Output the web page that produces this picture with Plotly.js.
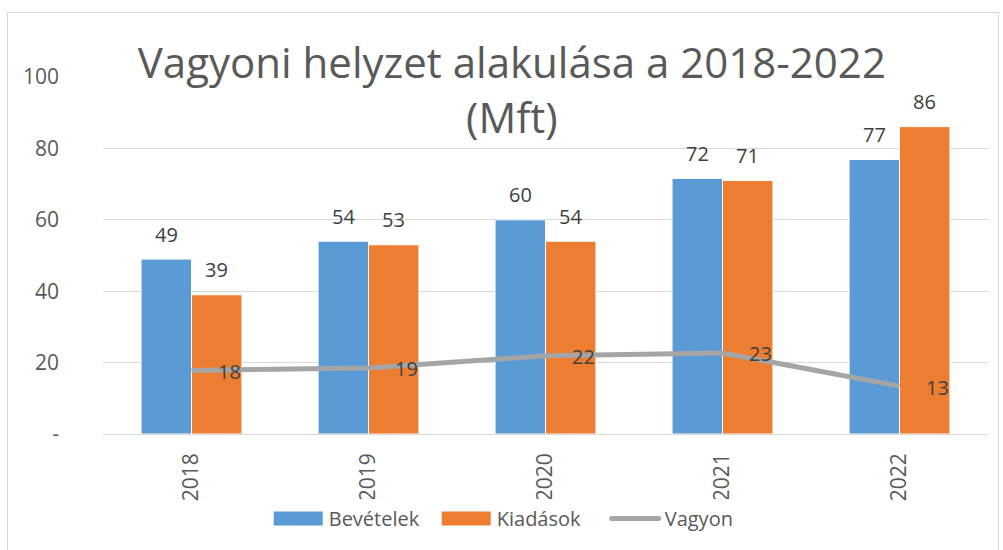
<!DOCTYPE html>
<html>
<head>
<meta charset="utf-8">
<script src="https://cdn.plot.ly/plotly-3.0.1.min.js"></script>
<style>
  html, body { margin: 0; padding: 0; background: #fff; }
  #wrap { position: relative; width: 1003px; height: 550px; }
  #chart { position: absolute; left: 0; top: 0; width: 1003px; height: 550px; }
  #frame { position: absolute; left: 7px; top: 12px; width: 992px; height: 560px;
           border: 1px solid #d9d9d9; pointer-events: none; box-sizing: border-box; }
</style>
</head>
<body>
<div id="wrap">
  <div id="chart"></div>
  <div id="frame"></div>
</div>
<script>
const years = ['2018', '2019', '2020', '2021', '2022'];
const bevetelek = [49, 54, 60, 71.6, 76.9];
const kiadasok = [39, 53, 54, 71, 86.1];
const vagyon = [17.8, 18.5, 21.9, 22.7, 13.4];
const yTickVals = [0, 20, 40, 60, 80, 100];
const yTickText = ['-', '20', '40', '60', '80', '100'];
const titleText = 'Vagyoni helyzet alakulása a 2018-2022<br>(Mft)';

const FONT = 'Open Sans, Calibri, sans-serif';
const TXT = '#595959';
const LBL = '#404040';

const traces = [
  {
    type: 'bar', name: 'Bevételek', x: years, y: bevetelek,
    marker: { color: '#5b9bd5', line: { color: '#ffffff', width: 1 } },
    hoverinfo: 'skip'
  },
  {
    type: 'bar', name: 'Kiadások', x: years, y: kiadasok,
    marker: { color: '#ed7d31', line: { color: '#ffffff', width: 1 } },
    hoverinfo: 'skip'
  },
  {
    type: 'scatter', mode: 'lines', name: 'Vagyon', x: years, y: vagyon,
    line: { color: '#a5a5a5', width: 5 },
    hoverinfo: 'skip'
  }
];

// value labels, derived from the data arrays
const annotations = [];
[[bevetelek, -25], [kiadasok, 25]].forEach(([arr, dx]) => {
  arr.forEach((v, i) => {
    annotations.push({
      x: i, y: v, xref: 'x', yref: 'y',
      text: Math.round(v).toString(), showarrow: false,
      xshift: dx, yshift: 25,
      font: { family: FONT, size: 20, color: LBL }
    });
  });
});
vagyon.forEach((v, i) => {
  annotations.push({
    x: i, y: v, xref: 'x', yref: 'y',
    text: Math.round(v).toString(), showarrow: false,
    xanchor: 'left', xshift: 24, yshift: -1,
    font: { family: FONT, size: 20, color: LBL }
  });
});

const layout = {
  width: 1003, height: 550,
  paper_bgcolor: '#ffffff', plot_bgcolor: '#ffffff',
  margin: { l: 103, r: 15, t: 77, b: 114 },
  font: { family: FONT, color: TXT, size: 16 },
  title: {
    text: titleText,
    font: { family: FONT, size: 42, color: TXT },
    x: 0.462, xanchor: 'center', xref: 'paper',
    y: 0.858, yanchor: 'top', yref: 'container'
  },
  barmode: 'group',
  bargap: 0.43,
  bargroupgap: 0,
  xaxis: {
    type: 'category',
    tickangle: -90,
    tickfont: { family: FONT, size: 21, color: TXT },
    showgrid: false, showline: false, zeroline: false,
    ticks: '', ticklabelstandoff: 14
  },
  yaxis: {
    range: [0, 100],
    tickvals: yTickVals, ticktext: yTickText,
    tickfont: { family: FONT, size: 21, color: TXT },
    showgrid: true, gridcolor: '#d9d9d9', gridwidth: 1,
    zeroline: true, zerolinecolor: '#d9d9d9', zerolinewidth: 1,
    showline: false, ticks: '', ticklabelstandoff: 43
  },
  showlegend: true,
  legend: {
    orientation: 'h', x: 0.472, xanchor: 'center', y: -0.237, yanchor: 'middle',
    font: { family: FONT, size: 20, color: TXT },
    traceorder: 'normal', itemwidth: 50, entrywidth: 103
  },
  annotations: annotations,
  hovermode: false
};

function restyleLegend(gd) {
  const items = gd.querySelectorAll('.legend .traces');
  items.forEach((item, idx) => {
    const txt = item.querySelector('text.legendtext');
    const tx = txt ? (parseFloat(txt.getAttribute('x')) || 60) : 60;
    if (idx < 2) {
      item.querySelectorAll('.legendpoints path').forEach(p => {
        p.setAttribute('d', `M${tx - 55},-7H${tx - 6}V7H${tx - 55}Z`);
        p.setAttribute('transform', '');
        p.style.strokeWidth = '0px';
      });
    } else {
      item.querySelectorAll('.legendlines path').forEach(p => {
        p.setAttribute('d', `M${tx - 53},0H${tx - 6}`);
        p.setAttribute('transform', '');
        p.style.strokeLinecap = 'round';
      });
    }
  });
}

const gdEl = document.getElementById('chart');
Plotly.newPlot(gdEl, traces, layout, { displayModeBar: false, staticPlot: true })
  .then(gd => {
    restyleLegend(gd);
    gd.on('plotly_afterplot', () => restyleLegend(gd));
    setTimeout(() => restyleLegend(gd), 50);
  });
</script>
</body>
</html>
